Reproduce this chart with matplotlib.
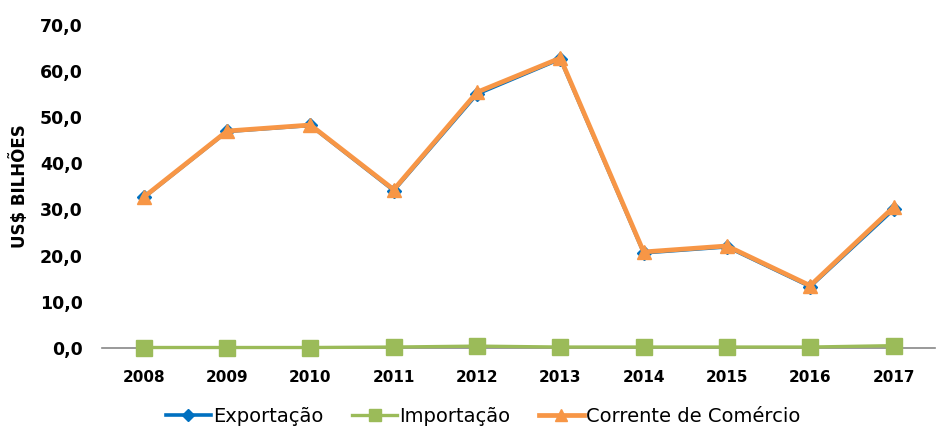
import matplotlib.pyplot as plt
from matplotlib.ticker import FuncFormatter

# ── Data ─────────────────────────────────────────────────────────────────────
anos = ["2008", "2009", "2010", "2011", "2012", "2013", "2014", "2015", "2016", "2017"]
exportacao = [32.6, 46.9, 48.2, 34.1, 55.0, 62.6, 20.6, 21.9, 13.3, 30.0]
importacao = [0.1, 0.1, 0.1, 0.2, 0.4, 0.2, 0.2, 0.2, 0.2, 0.5]
corrente = [32.7, 47.0, 48.3, 34.3, 55.4, 62.8, 20.8, 22.1, 13.5, 30.5]

BLUE = "#0070C0"
GREEN = "#9BBB59"
ORANGE = "#F79646"

fig = plt.figure(figsize=(9.38, 4.28), dpi=100)
ax = fig.add_axes([0.109, 0.187, 0.888, 0.755])

x = range(len(anos))
ax.plot(x, exportacao, color=BLUE, linewidth=2.6, marker="D", markersize=7,
        label="Exportação", zorder=3)
ax.plot(x, importacao, color=GREEN, linewidth=2.4, marker="s", markersize=11,
        label="Importação", zorder=3, clip_on=False)
ax.plot(x, corrente, color=ORANGE, linewidth=3.4, marker="^", markersize=10,
        label="Corrente de Comércio", zorder=4)

ax.set_xlim(-0.5, len(anos) - 0.5)
ax.set_ylim(0, 70)
ax.set_yticks(range(0, 71, 10))
ax.yaxis.set_major_formatter(FuncFormatter(lambda v, p: f"{v:.1f}".replace(".", ",")))
ax.set_xticks(list(x))
ax.set_xticklabels(anos)

for s in ["top", "right", "left"]:
    ax.spines[s].set_visible(False)
ax.spines["bottom"].set_color("#888888")
ax.spines["bottom"].set_linewidth(1.2)
ax.tick_params(axis="both", length=0, colors="black")
ax.tick_params(axis="y", labelsize=12.5, pad=14)
ax.tick_params(axis="x", labelsize=11, pad=16)
for lbl in ax.get_xticklabels() + ax.get_yticklabels():
    lbl.set_fontweight("bold")

ax.set_ylabel("US$ BILHÕES", fontsize=12, fontweight="bold", labelpad=8)

fig.legend(loc="center", bbox_to_anchor=(0.515, 0.028), ncol=3, frameon=False,
           fontsize=14, handlelength=2.3, handletextpad=0.1, columnspacing=1.5,
           markerscale=0.85)

fig.savefig("out.png", dpi=100, facecolor="white")
